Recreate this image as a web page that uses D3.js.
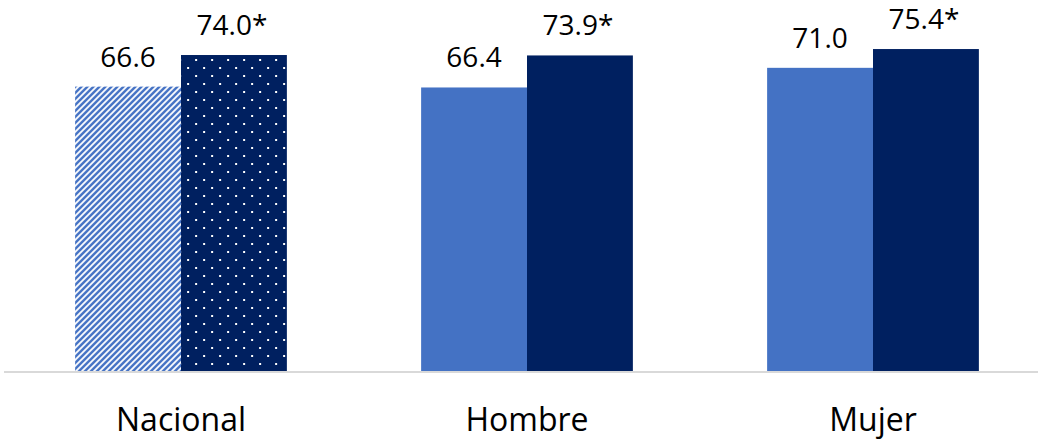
<!DOCTYPE html>
<html>
<head>
<meta charset="utf-8">
<script src="https://cdn.jsdelivr.net/npm/d3@7"></script>
<style>
  body { margin: 0; background: #fff; }
  svg { display: block; }
  text { font-family: "Open Sans", sans-serif; fill: #000; }
</style>
</head>
<body>
<div id="chart"></div>
<script>
// chart data
var categories = ["Nacional", "Hombre", "Mujer"];
var serieA = [66.6, 66.4, 71.0];
var serieB = [74.0, 73.9, 75.4];
var labelsA = ["66.6", "66.4", "71.0"];
var labelsB = ["74.0*", "73.9*", "75.4*"];

var width = 1038;
var height = 441;
var baseY = 371;

var svg = d3.select("#chart")
  .append("svg")
  .attr("width", width)
  .attr("height", height);

// patterns for the Nacional bars
var defs = svg.append("defs");

var hatch = defs.append("pattern")
  .attr("id", "hatch")
  .attr("patternUnits", "userSpaceOnUse")
  .attr("width", 6)
  .attr("height", 6);
hatch.append("rect").attr("width", 6).attr("height", 6).attr("fill", "#4472c4");
hatch.append("path")
  .attr("d", "M-1.5,1.5 L1.5,-1.5 M0,6 L6,0 M4.5,7.5 L7.5,4.5")
  .attr("stroke", "#fff")
  .attr("stroke-width", 1.8);

var dots = defs.append("pattern")
  .attr("id", "dots")
  .attr("patternUnits", "userSpaceOnUse")
  .attr("x", 0)
  .attr("y", 3)
  .attr("width", 16)
  .attr("height", 16);
dots.append("rect").attr("width", 16).attr("height", 16).attr("fill", "#002060");
dots.append("rect").attr("x", 0).attr("y", 0).attr("width", 2).attr("height", 2).attr("fill", "#fff");
dots.append("rect").attr("x", 8).attr("y", 8).attr("width", 2).attr("height", 2).attr("fill", "#fff");

// scales
var x0 = d3.scaleBand()
  .domain(categories)
  .range([8, 1046])
  .paddingInner(0.388)
  .paddingOuter(0.194);

var x1 = d3.scaleBand()
  .domain(["A", "B"])
  .range([0, x0.bandwidth()]);

var y = d3.scaleLinear()
  .domain([0, 80])
  .range([baseY, 29.4]);

var data = categories.map(function(c, i) {
  return {
    name: c,
    groups: [
      {key: "A", value: serieA[i], label: labelsA[i], fill: i === 0 ? "url(#hatch)" : "#4472c4"},
      {key: "B", value: serieB[i], label: labelsB[i], fill: i === 0 ? "url(#dots)" : "#002060"}
    ]
  };
});

var group = svg.selectAll("g.group")
  .data(data)
  .enter().append("g")
  .attr("class", "group")
  .attr("transform", function(d) { return "translate(" + x0(d.name) + ",0)"; });

group.selectAll("rect")
  .data(function(d) { return d.groups; })
  .enter().append("rect")
  .attr("x", function(d) { return x1(d.key); })
  .attr("y", function(d) { return y(d.value); })
  .attr("width", x1.bandwidth())
  .attr("height", function(d) { return baseY - y(d.value); })
  .attr("fill", function(d) { return d.fill; });

group.selectAll("text.val")
  .data(function(d) { return d.groups; })
  .enter().append("text")
  .attr("class", "val")
  .attr("x", function(d) { return x1(d.key) + x1.bandwidth() / 2 + (d.key === "B" ? -2 : 0); })
  .attr("y", function(d) { return y(d.value) - 20; })
  .attr("text-anchor", "middle")
  .style("font-size", "28px")
  .text(function(d) { return d.label; });

// x axis
var xAxis = d3.axisBottom(x0)
  .tickSizeInner(0)
  .tickSizeOuter(0);

var gx = svg.append("g")
  .attr("transform", "translate(0," + (baseY + 1) + ")")
  .call(xAxis);

gx.select(".domain")
  .attr("stroke", "#d9d9d9")
  .attr("stroke-width", 2)
  .attr("d", "M4,0H1038");

gx.selectAll(".tick text")
  .attr("y", 59)
  .attr("dy", 0)
  .style("font-family", "'Open Sans', sans-serif")
  .style("font-size", "32px")
  .attr("fill", "#000");
</script>
</body>
</html>
